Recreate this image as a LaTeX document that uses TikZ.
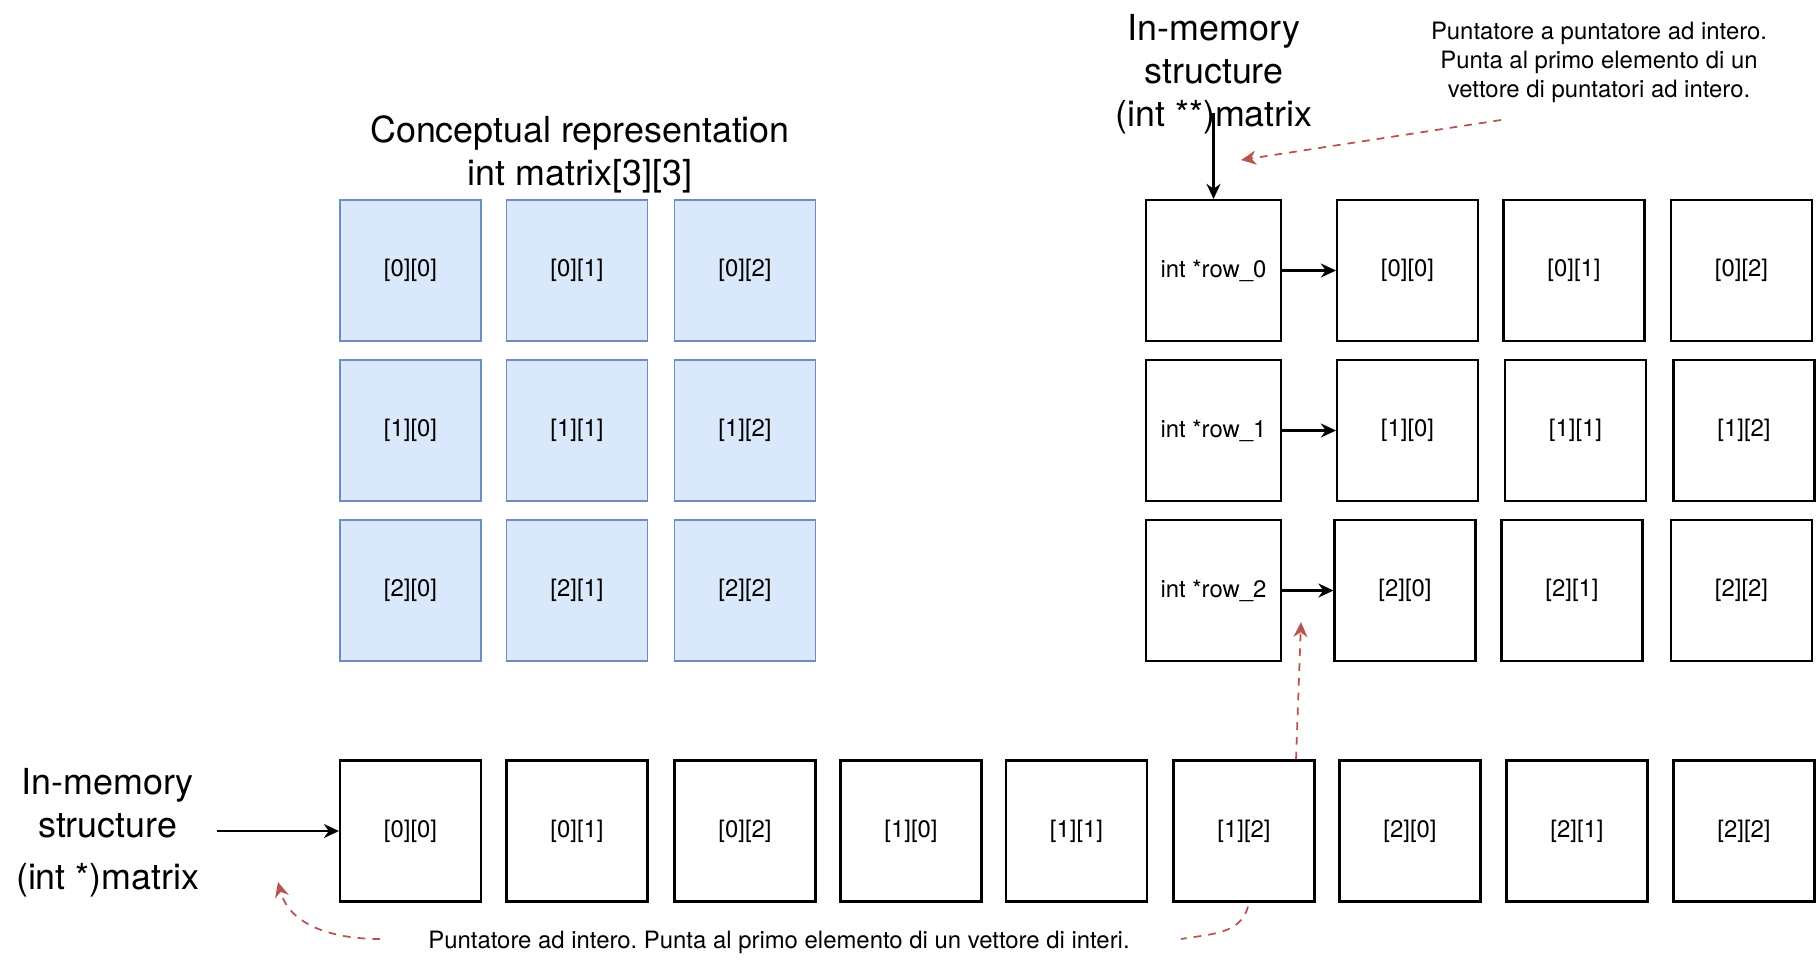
\documentclass[tikz,border=0pt]{standalone}
\usepackage{fontspec}
\setmainfont{TeX Gyre Heros}
\usetikzlibrary{arrows.meta}
\frenchspacing
\definecolor{cellfill}{HTML}{DAE8FC}
\definecolor{celldraw}{HTML}{6C8EBF}
\definecolor{hint}{HTML}{B85450}
\tikzset{cell/.style={draw=celldraw,fill=cellfill,line width=.5pt,minimum width=1.41cm,minimum height=1.41cm,inner sep=0pt,font=\fontsize{6.8}{8.2}\selectfont},
  mem/.style={draw=black,line width=.6pt,minimum width=1.41cm,minimum height=1.41cm,inner sep=0pt,font=\fontsize{6.8}{8.2}\selectfont},
  ptr/.style={mem,minimum width=1.35cm},
  heading/.style={align=center,inner sep=0pt,font=\fontsize{10.2}{12.2}\selectfont},
  note/.style={align=center,inner sep=0pt,font=\fontsize{6.8}{8.25}\selectfont},
  link/.style={line width=.6pt,-{Stealth[length=4.3pt,width=4pt]}},
  hintline/.style={hint,line width=.5pt,dash pattern=on 2.2pt off 2pt},
  hintarrow/.style={hintline,-{Stealth[length=4.3pt,width=4pt]}}}

\begin{document}
\begin{tikzpicture}
\useasboundingbox (0,0) rectangle (18.16,-9.72);
\node[heading] (concept) at (5.80,-1.545) {Conceptual representation\\int matrix[3][3]};
\node[cell] (c00) at (4.105,-2.705) {[0][0]};
\node[cell] (c01) at (5.77,-2.705) {[0][1]};
\node[cell] (c02) at (7.45,-2.705) {[0][2]};
\node[cell] (c10) at (4.105,-4.305) {[1][0]};
\node[cell] (c11) at (5.77,-4.305) {[1][1]};
\node[cell] (c12) at (7.45,-4.305) {[1][2]};
\node[cell] (c20) at (4.105,-5.905) {[2][0]};
\node[cell] (c21) at (5.77,-5.905) {[2][1]};
\node[cell] (c22) at (7.45,-5.905) {[2][2]};

\node[heading] (ptrtitle) at (12.14,-0.74) {In-memory\\structure\\(int **)matrix};
\node[note] (ptrnote) at (15.99,-0.62) {Puntatore a puntatore ad intero.\\Punta al primo elemento di un\\vettore di puntatori ad intero.};
\node[ptr] (p0) at (12.135,-2.705) {int *row\_0};
\node[ptr] (p1) at (12.135,-4.305) {int *row\_1};
\node[ptr] (p2) at (12.135,-5.905) {int *row\_2};
\node[mem] (d00) at (14.075,-2.705) {[0][0]};
\node[mem] (d01) at (15.74,-2.705) {[0][1]};
\node[mem] (d02) at (17.415,-2.705) {[0][2]};
\node[mem] (d10) at (14.075,-4.305) {[1][0]};
\node[mem] (d11) at (15.755,-4.305) {[1][1]};
\node[mem] (d12) at (17.44,-4.305) {[1][2]};
\node[mem] (d20) at (14.05,-5.905) {[2][0]};
\node[mem] (d21) at (15.72,-5.905) {[2][1]};
\node[mem] (d22) at (17.415,-5.905) {[2][2]};

\node[heading] (flattitle) at (1.077,-8.33) {In-memory\\structure\\[2.6pt](int *)matrix};
\node[mem] (m0) at (4.105,-8.31) {[0][0]};
\node[mem] (m1) at (5.77,-8.31) {[0][1]};
\node[mem] (m2) at (7.45,-8.31) {[0][2]};
\node[mem] (m3) at (9.11,-8.31) {[1][0]};
\node[mem] (m4) at (10.765,-8.31) {[1][1]};
\node[mem] (m5) at (12.44,-8.31) {[1][2]};
\node[mem] (m6) at (14.10,-8.31) {[2][0]};
\node[mem] (m7) at (15.77,-8.31) {[2][1]};
\node[mem] (m8) at (17.44,-8.31) {[2][2]};
\node[note] (intnote) at (7.79,-9.42) {Puntatore ad intero. Punta al primo elemento di un vettore di interi.};

\coordinate (ptrin) at (12.135,-1.13);
\coordinate (flatin) at (2.165,-8.31);
\draw[link] (ptrin) -- (p0);
\draw[link] (p0) -- (d00);
\draw[link] (p1) -- (d10);
\draw[link] (p2) -- (d20);
\draw[link] (flatin) -- (m0);

\coordinate (ptrtail) at (15.01,-1.20);
\coordinate (ptrtip) at (12.41,-1.60);
\coordinate (rowtip) at (13.01,-6.22);
\coordinate (inttail) at (11.81,-9.39);
\coordinate (intstart) at (3.80,-9.39);
\coordinate (flattip) at (2.78,-8.82);
\draw[hintarrow] (ptrtail) -- (ptrtip);
\draw[hintarrow] ([xshift=.52cm]m5.north) -- (rowtip);
\draw[hintline] ([xshift=.04cm,yshift=-.04cm]m5.south) to[out=-105,in=10] (inttail);
\draw[hintarrow] (intstart) to[out=180,in=-75] (flattip);
\end{tikzpicture}
\end{document}
